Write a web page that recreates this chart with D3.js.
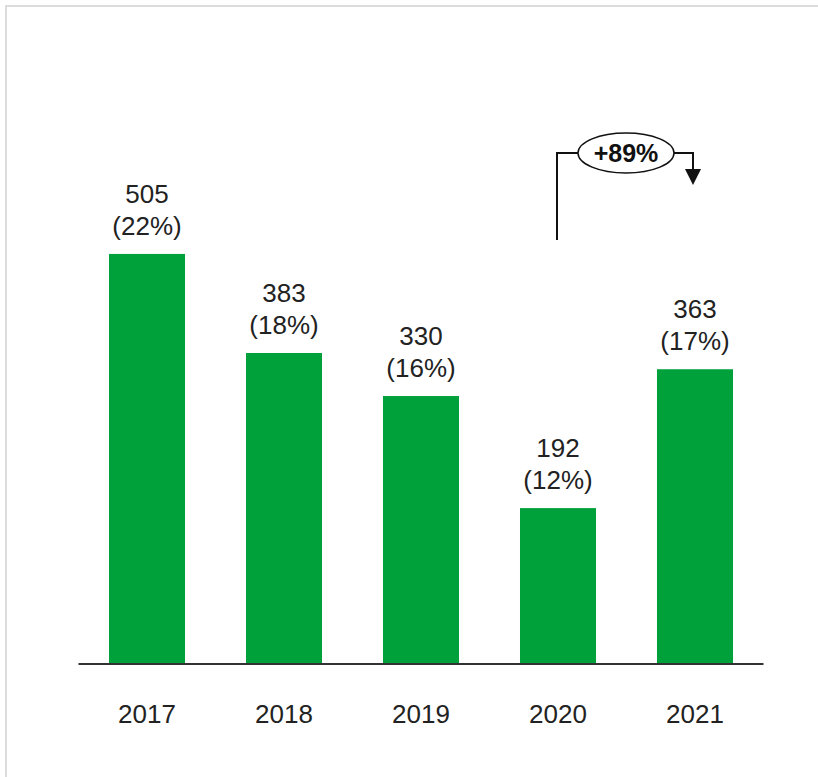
<!DOCTYPE html>
<html>
<head>
<meta charset="utf-8">
<script src="https://cdn.jsdelivr.net/npm/d3@7"></script>
<style>
  body { margin: 0; background: #fff; }
  svg { display: block; font-family: "Liberation Sans", Arial, sans-serif; }
</style>
</head>
<body>
<svg id="chart"></svg>
<script>
const years = ["2017", "2018", "2019", "2020", "2021"];
const values = [505, 383, 330, 192, 363];
const shares = ["22%", "18%", "16%", "12%", "17%"];
const growthLabel = "+89%";

const width = 818, height = 777;
const baseY = 664;

const svg = d3.select("#chart")
    .attr("width", width)
    .attr("height", height);

// frame (only top/left edges show)
svg.append("path")
    .attr("d", `M6,${height} V6 H${width}`)
    .attr("fill", "none")
    .attr("stroke", "#dcdcdc")
    .attr("stroke-width", 2);

const x = d3.scaleBand()
    .domain(years)
    .range([78.5, 763.5])
    .paddingInner(0.445)
    .paddingOuter(0.2225);

const y = d3.scaleLinear()
    .domain([0, 600])
    .range([baseY, baseY - 600 * 0.812]);

const data = years.map((d, i) => ({ year: d, value: values[i], share: shares[i] }));

svg.append("g")
    .selectAll("rect")
    .data(data)
    .join("rect")
    .attr("x", d => x(d.year))
    .attr("y", d => y(d.value))
    .attr("width", x.bandwidth())
    .attr("height", d => y(0) - y(d.value))
    .attr("fill", "#00a03a");

// baseline
svg.append("line")
    .attr("x1", x.range()[0]).attr("x2", x.range()[1])
    .attr("y1", baseY).attr("y2", baseY)
    .attr("stroke", "#333")
    .attr("stroke-width", 2);

// year labels
svg.append("g")
    .selectAll("text")
    .data(data)
    .join("text")
    .attr("x", d => x(d.year) + x.bandwidth() / 2)
    .attr("y", baseY + 59)
    .attr("text-anchor", "middle")
    .attr("font-size", 26)
    .attr("fill", "#222")
    .text(d => d.year);

// value labels
const lbl = svg.append("g")
    .selectAll("g")
    .data(data)
    .join("g")
    .attr("transform", d => `translate(${x(d.year) + x.bandwidth() / 2},${y(d.value)})`);

lbl.append("text")
    .attr("y", -51)
    .attr("text-anchor", "middle")
    .attr("font-size", 26)
    .attr("fill", "#222")
    .text(d => d.value);

lbl.append("text")
    .attr("y", -19)
    .attr("text-anchor", "middle")
    .attr("font-size", 26)
    .attr("fill", "#222")
    .text(d => `(${d.share})`);

// growth annotation 2020 -> 2021
const x0 = x("2020") + x.bandwidth() / 2 - 1;
const x1 = x("2021") + x.bandwidth() / 2 - 2;
const topY = 153;
const cx = 626, rx = 48, ry = 20;

const ann = svg.append("g")
    .attr("fill", "none")
    .attr("stroke", "#111")
    .attr("stroke-width", 2);

ann.append("path")
    .attr("d", `M${x0},240 V${topY} H${cx - rx}`);
ann.append("path")
    .attr("d", `M${cx + rx},${topY} H${x1} V172`);
ann.append("ellipse")
    .attr("cx", cx).attr("cy", topY)
    .attr("rx", rx).attr("ry", ry)
    .attr("stroke-width", 1.5);

svg.append("path")
    .attr("d", `M${x1 - 8},169 L${x1 + 8},169 L${x1},185 Z`)
    .attr("fill", "#111");

svg.append("text")
    .attr("x", cx)
    .attr("y", topY + 9)
    .attr("text-anchor", "middle")
    .attr("font-size", 25)
    .attr("font-weight", "bold")
    .attr("fill", "#111")
    .text(growthLabel);
</script>
</body>
</html>
